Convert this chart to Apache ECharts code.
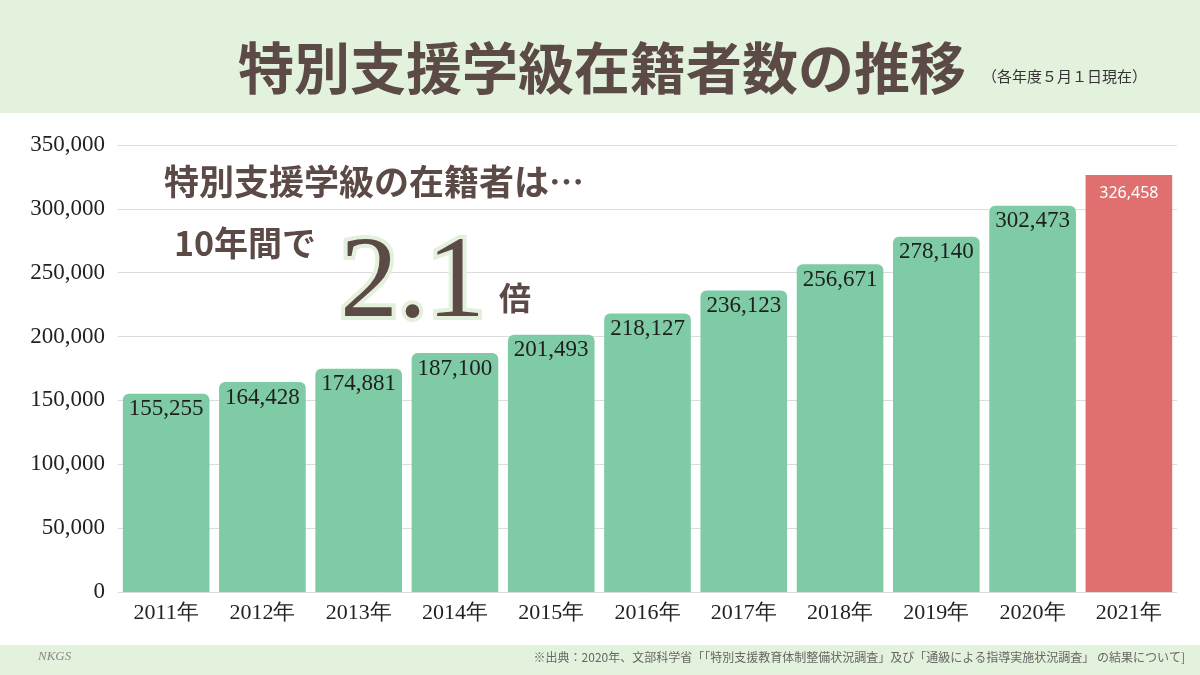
<!DOCTYPE html>
<html><head><meta charset="utf-8">
<script src="https://cdn.jsdelivr.net/npm/echarts@6/dist/echarts.min.js"></script>
<style>html,body{margin:0;padding:0;background:#fff}#c{width:1200px;height:675px}</style>
</head><body><div id="c"></div>
<script>
const categories = ['2011年','2012年','2013年','2014年','2015年','2016年','2017年','2018年','2019年','2020年','2021年'];
const students = [155255,164428,174881,187100,201493,218127,236123,256671,278140,302473,326458];
const yTicks = {min:0,max:350000,interval:50000};

const chart = echarts.init(document.getElementById('c'));
const brown = '#5b4a45';
const last = students.length - 1;
const seriesData = students.map((v,i)=> i===last ? {
  value:v,
  itemStyle:{color:'#e07070',borderRadius:[0,0,0,0]},
  label:{color:'#fff',fontFamily:'Noto Sans',fontSize:16,distance:10}
} : v);

chart.setOption({
  animation:false,
  backgroundColor:'#fff',
  grid:{left:118,right:23,top:145,bottom:83},
  xAxis:{type:'category',data:categories,
    axisLine:{show:false},axisTick:{show:false},
    axisLabel:{color:'#222',fontSize:22,fontFamily:'Liberation Serif',margin:10}},
  yAxis:{type:'value',min:yTicks.min,max:yTicks.max,interval:yTicks.interval,
    axisLabel:{color:'#222',fontSize:23,fontFamily:'Liberation Serif',margin:13,
      formatter:v=>v.toLocaleString('en-US')},
    splitLine:{lineStyle:{color:'#dcdcdc',width:1}}},
  series:[{type:'bar',data:seriesData,barCategoryGap:'10%',
    itemStyle:{color:'#7ecba5',borderRadius:[6,6,0,0]},
    label:{show:true,position:'insideTop',distance:4,color:'#1e1e1e',fontSize:23,
      fontFamily:'Liberation Serif',formatter:p=>p.value.toLocaleString('en-US')}}],
  graphic:[
    {type:'rect',left:0,top:0,shape:{width:1200,height:113},style:{fill:'#e3f2dc'},z:-10},
    {type:'rect',left:0,top:645,shape:{width:1200,height:30},style:{fill:'#e3f2dc'},z:-10},
    {type:'text',left:238,top:40,style:{text:'特別支援学級在籍者数の推移',fill:brown,
      font:'bold 56px "Noto Sans CJK JP"'}},
    {type:'text',left:982,top:69,style:{text:'（各年度５月１日現在）',fill:'#333',
      font:'15px "Noto Sans CJK JP"'}},
    {type:'text',left:162,top:162,z:50,style:{text:'特別支援学級の在籍者は…',fill:brown,
      font:'bold 35px "Noto Sans CJK JP"',stroke:'#fff',lineWidth:4}},
    {type:'text',left:172,top:224,z:50,style:{text:'10年間で',fill:brown,
      font:'bold 34px "Noto Sans CJK JP"',stroke:'#fff',lineWidth:4}},
    {type:'text',left:336,top:224,z:50,style:{text:'2.1',fill:brown,
      font:'116px "Liberation Serif"',stroke:'#e2f0dc',lineWidth:8}},
    {type:'text',left:497,top:280,z:50,style:{text:'倍',fill:brown,
      font:'bold 32px "Noto Sans CJK JP"',stroke:'#fff',lineWidth:4}},
    {type:'text',right:15,top:651,style:{text:'※出典：2020年、文部科学省「「特別支援教育体制整備状況調査」及び「通級による指導実施状況調査」 の結果について]',
      fill:'#666',font:'12px "Noto Sans CJK JP"'}},
    {type:'text',left:38,top:650,style:{text:'NKGS',fill:'#888',font:'italic 13px "Liberation Serif"'}}
  ]
});
</script></body></html>
